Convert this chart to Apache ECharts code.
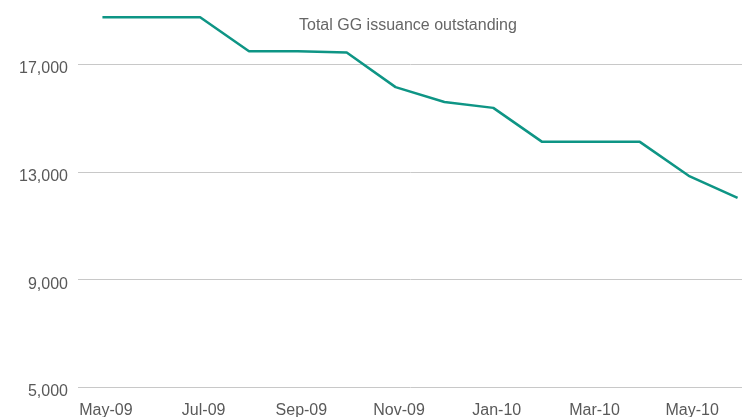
<!DOCTYPE html>
<html>
<head>
<meta charset="utf-8">
<script src="https://cdn.jsdelivr.net/npm/echarts@6/dist/echarts.min.js"></script>
<style>
  html, body { margin: 0; padding: 0; background: #fff; }
  #chart { width: 742px; height: 417px; }
</style>
</head>
<body>
<div id="chart"></div>
<script>
// Monthly outstanding GG issuance
const months = ['May-09', 'Jun-09', 'Jul-09', 'Aug-09', 'Sep-09', 'Oct-09', 'Nov-09',
                'Dec-09', 'Jan-10', 'Feb-10', 'Mar-10', 'Apr-10', 'May-10', 'Jun-10'];
const outstanding = [18730, 18730, 18730, 17470, 17470, 17420, 16140,
                     15590, 15370, 14110, 14110, 14110, 12850, 12030];
const yTicks = [5000, 9000, 13000, 17000];

const chart = echarts.init(document.getElementById('chart'), null, { renderer: 'canvas' });
const textFont = '"Liberation Sans", Arial, sans-serif';

chart.setOption({
  animation: false,
  title: {
    text: 'Total GG issuance outstanding',
    left: 294,
    top: 13,
    textStyle: { fontFamily: textFont, fontSize: 16, fontWeight: 'normal', color: '#666666' }
  },
  // plot area runs past the right edge so the last month sits near the border
  grid: { left: 78, width: 684, top: 10, bottom: 29.5, containLabel: false, outerBoundsMode: 'none' },
  xAxis: {
    type: 'category',
    data: months,
    boundaryGap: true,
    axisLine: { show: false },
    axisTick: { show: false },
    axisLabel: {
      interval: 1,
      margin: 15,
      formatter: v => '{m|' + v + '}',
      rich: {
        m: {
          padding: [0, 0, 0, 7],
          fontFamily: textFont,
          fontSize: 16,
          color: '#595959'
        }
      }
    },
    splitLine: { show: false }
  },
  yAxis: {
    type: 'value',
    min: yTicks[0],
    max: 19000,
    interval: yTicks[1] - yTicks[0],
    axisLine: { show: false },
    axisTick: { show: false },
    axisLabel: {
      margin: 10,
      showMaxLabel: false,
      verticalAlign: 'top',
      lineHeight: 9,
      fontFamily: textFont,
      fontSize: 16,
      color: '#595959',
      formatter: v => (yTicks.includes(v) ? v.toLocaleString('en-US') : '')
    },
    splitLine: { show: true, showMaxLine: false, lineStyle: { color: '#c8c8c8', width: 1 } }
  },
  series: [{
    type: 'line',
    data: outstanding,
    symbol: 'none',
    clip: false,
    lineStyle: { color: '#0e9585', width: 2.5 },
    itemStyle: { color: '#0e9585' }
  }]
});
</script>
</body>
</html>
